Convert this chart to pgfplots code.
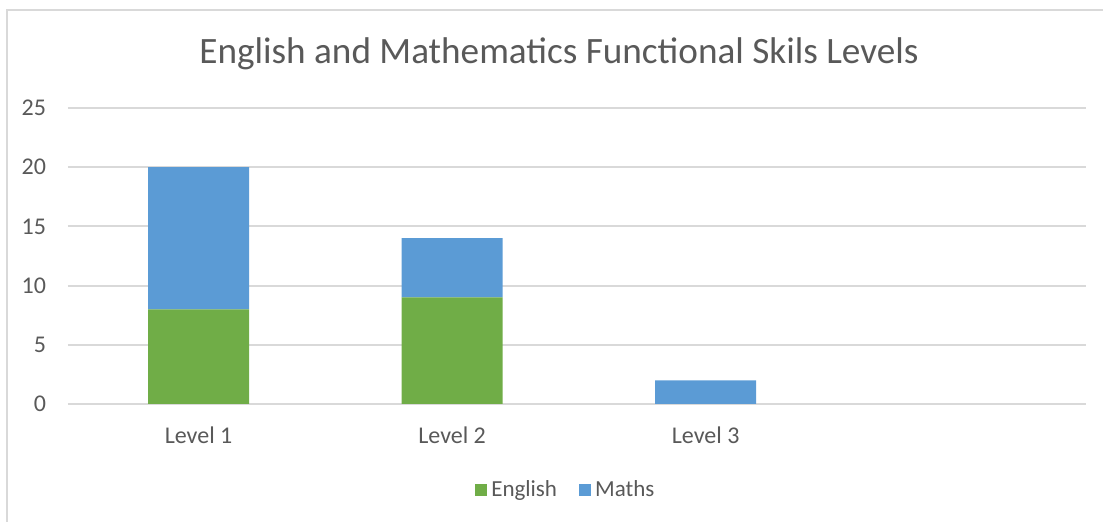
\documentclass[border=0pt]{standalone}
\usepackage{pgfplots}
\pgfplotsset{compat=1.18}
\usepackage{fontspec}
\setmainfont{Carlito}
\definecolor{eng}{HTML}{70AD47}
\definecolor{mat}{HTML}{5B9BD5}
\definecolor{txt}{HTML}{595959}
\definecolor{grd}{HTML}{D9D9D9}
\begin{document}
\begin{tikzpicture}
\useasboundingbox (0,0) rectangle (551.5pt,261pt);
\draw[grd, line width=1pt] (3.5pt,0) -- (3.5pt,256pt) -- (551.5pt,256pt);
\node[txt, font=\fontsize{18.6}{22}\selectfont] at (279.5pt,234pt) {English and Mathematics Functional Skils Levels};
\begin{axis}[
  at={(34pt,59pt)}, anchor=south west,
  scale only axis, width=509pt, height=148pt,
  ybar stacked, bar width=50.5pt,
  xmin=-0.515, xmax=3.5, ymin=0, ymax=25,
  ytick={0,5,...,25},
  xtick={0,1,2}, xticklabels={Level 1,Level 2,Level 3},
  axis line style={draw=none},
  ymajorgrids, grid style={grd, line width=1pt},
  major tick length=0pt,
  tick label style={txt, font=\fontsize{12}{14}\selectfont},
  yticklabel style={xshift=-7.5pt},
  xticklabel style={yshift=-8pt},
  /pgf/number format/assume math mode=true,
  legend style={at={(0.49,-0.29)}, anchor=center, draw=none, legend columns=2,
    font=\fontsize{11.5}{13}\selectfont\color{txt},
    /tikz/every even column/.append style={column sep=9pt}},
  legend image code/.code={\fill[#1] (0pt,-3pt) rectangle (6pt,3pt);},
]
\addplot[fill=eng, draw=none] coordinates {(0,8) (1,9) (2,0) (3,0)};
\addlegendentry{English}
\addplot[fill=mat, draw=none] coordinates {(0,12) (1,5) (2,2) (3,0)};
\addlegendentry{Maths}
\end{axis}
\end{tikzpicture}
\end{document}
